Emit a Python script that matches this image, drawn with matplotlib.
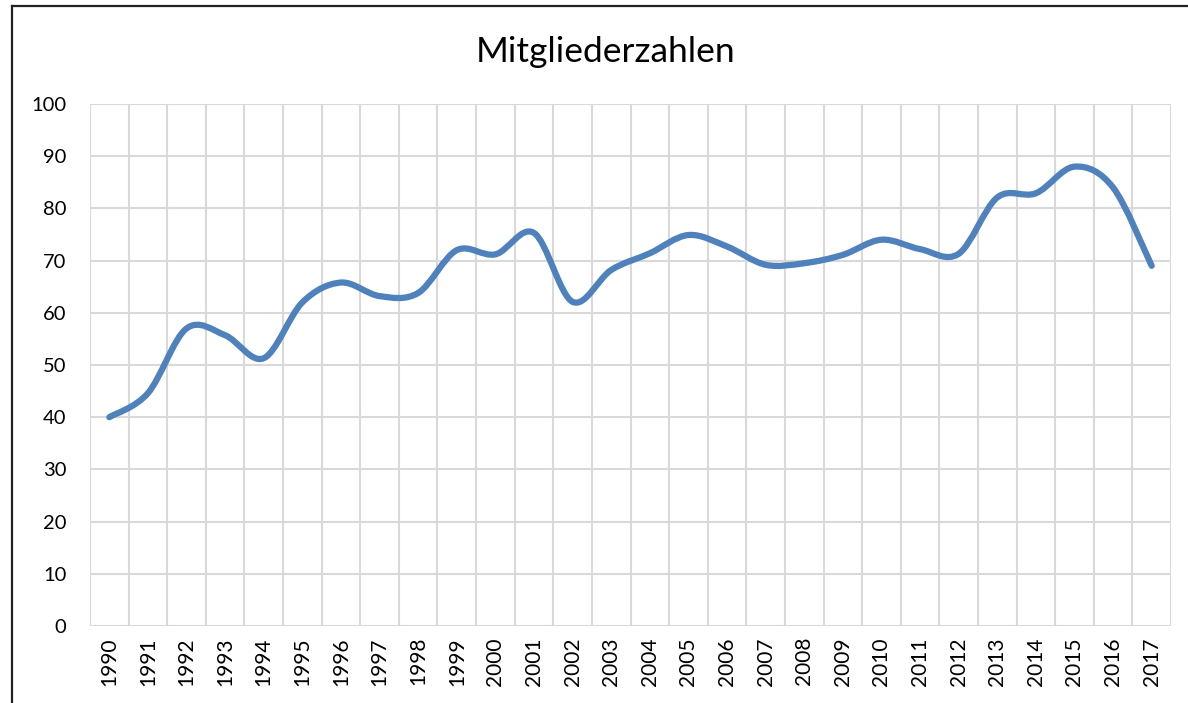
import numpy as np
import matplotlib.pyplot as plt
from matplotlib.path import Path
from matplotlib.patches import PathPatch
from matplotlib.lines import Line2D

years = [str(y) for y in range(1990, 2018)]
members = [40, 44.6, 57, 55.7, 51.3, 62, 65.8, 63.2, 63.8, 72,
           71.2, 75.3, 62.1, 68.2, 71.4, 74.9, 72.7, 69.2, 69.5, 71.1,
           74, 72.2, 71.3, 82.1, 82.9, 88, 84, 69]
title = "Mitgliederzahlen"

plt.rcParams['font.family'] = ['Lato', 'DejaVu Sans']

fig = plt.figure(figsize=(11.88, 7.03), dpi=100)
ax = fig.add_axes([90/1188, 1 - 626/703, (1171 - 90)/1188, (626 - 104)/703])

# smoothed line like excel (catmull-rom as bezier segments)
n = len(members)
pts = np.column_stack([np.arange(n), members]).astype(float)
verts = [pts[0]]
codes = [Path.MOVETO]
for i in range(n - 1):
    p0 = pts[max(i - 1, 0)]
    p1 = pts[i]
    p2 = pts[i + 1]
    p3 = pts[min(i + 2, n - 1)]
    verts += [p1 + (p2 - p0) / 6, p2 - (p3 - p1) / 6, p2]
    codes += [Path.CURVE4] * 3
patch = PathPatch(Path(verts, codes), facecolor='none', edgecolor='#4f81bd',
                  lw=4.5, capstyle='round', joinstyle='round', zorder=3)
ax.add_patch(patch)

ax.set_xlim(-0.5, n - 0.5)
ax.set_ylim(0, 100)
ax.set_yticks(range(0, 101, 10))
ax.set_xticks(range(n))
ax.set_xticklabels(years, rotation=90)
ax.set_xticks(np.arange(-0.5, n, 1), minor=True)
ax.grid(True, which='minor', axis='x', color='#d9d9d9', lw=1.5)
ax.grid(True, which='major', axis='y', color='#d9d9d9', lw=1.5)
ax.tick_params(axis='both', which='both', length=0, colors='black')
ax.tick_params(axis='y', pad=17, labelsize=14.5)
ax.tick_params(axis='x', pad=8, labelsize=15)
for s in ax.spines.values():
    s.set_visible(False)
ax.set_axisbelow(True)

fig.text(606/1188, 1 - 61.7/703, title, fontsize=25.5, ha='center', va='baseline')

# outer chart frame (cropped screenshot)
fy = 1 - 6/703
fx = 12/1188
fig.add_artist(Line2D([fx, 1], [fy, fy], color='#222222', lw=1.6))
fig.add_artist(Line2D([fx, fx], [0, fy], color='#222222', lw=1.6))

fig.savefig('out.png', dpi=100)
